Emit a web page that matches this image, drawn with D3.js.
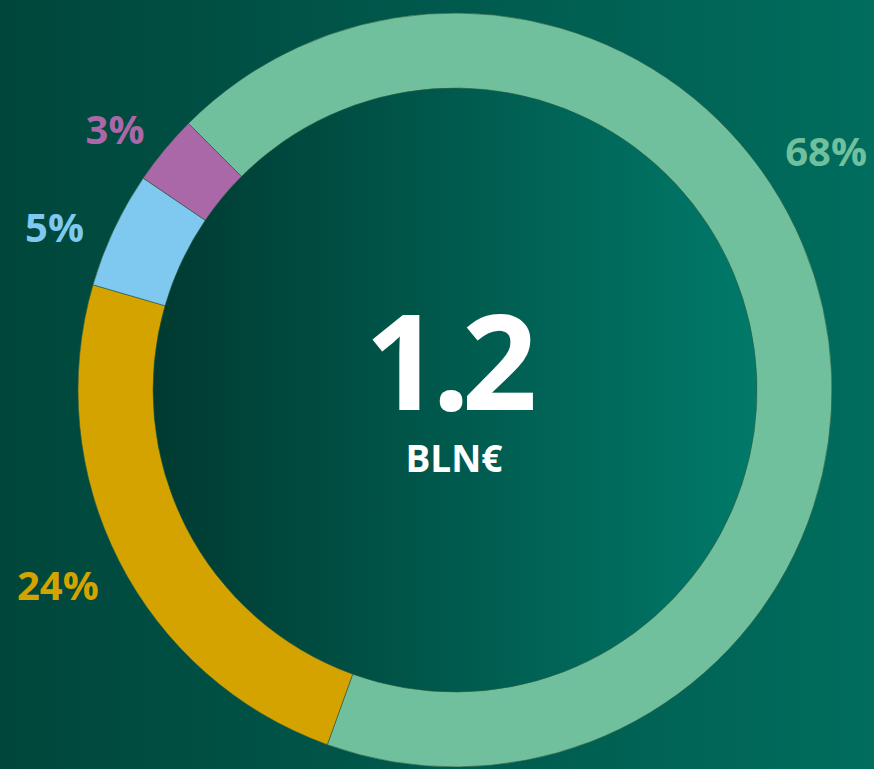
<!DOCTYPE html>
<html>
<head>
<meta charset="utf-8">
<script src="https://cdn.jsdelivr.net/npm/d3@7"></script>
<style>
  html, body { margin: 0; padding: 0; background: #005a4d; }
  svg { display: block; }
</style>
</head>
<body>
<svg id="donut" width="874" height="769"></svg>
<script>
// data
const categories = ["A", "B", "C", "D"];
const shares = [68, 24, 5, 3];
const labels = ["68%", "24%", "5%", "3%"];
const colors = ["#71c09d", "#d4a300", "#7fc8ef", "#ab68a8"];
const totalValue = "1.2";
const totalUnit = "BLN€";

const svg = d3.select("#donut");
const width = +svg.attr("width");
const height = +svg.attr("height");
const cx = 455, cy = 390;
const outerR = 377, innerR = 302;
// label placement (angle in degrees clockwise from top, radius) — hand placed like the original
const labelPlace = [[57.3, 441], [243.7, 443], [292, 432], [307.4, 428]];

const defs = svg.append("defs");
const bg = defs.append("linearGradient").attr("id", "bg")
    .attr("x1", "0%").attr("x2", "100%").attr("y1", "0%").attr("y2", "0%");
bg.append("stop").attr("offset", "0%").attr("stop-color", "#00463b");
bg.append("stop").attr("offset", "100%").attr("stop-color", "#006d5e");

const inner = defs.append("linearGradient").attr("id", "inner")
    .attr("x1", "0%").attr("x2", "100%").attr("y1", "0%").attr("y2", "0%");
inner.append("stop").attr("offset", "0%").attr("stop-color", "#003a31");
inner.append("stop").attr("offset", "100%").attr("stop-color", "#007a6a");

svg.append("rect")
    .attr("width", width)
    .attr("height", height)
    .attr("fill", "url(#bg)");

const g = svg.append("g")
    .attr("transform", "translate(" + cx + "," + cy + ")");

g.append("circle")
    .attr("r", innerR)
    .attr("fill", "url(#inner)");

const pie = d3.pie()
    .sort(null)
    .startAngle(-Math.PI / 4)
    .endAngle(2 * Math.PI - Math.PI / 4);

const arcs = pie(shares);

const arc = d3.arc()
    .innerRadius(innerR)
    .outerRadius(outerR);

g.selectAll("path.slice").data(arcs)
    .join("path")
    .attr("class", "slice")
    .attr("d", arc)
    .attr("fill", (d, i) => colors[i])
    .attr("stroke", "#2c5a40")
    .attr("stroke-width", 0.6);

const rad = a => a * Math.PI / 180;

g.selectAll("text.pct").data(arcs)
    .join("text")
    .attr("class", "pct")
    .attr("x", (d, i) => Math.sin(rad(labelPlace[i][0])) * labelPlace[i][1])
    .attr("y", (d, i) => -Math.cos(rad(labelPlace[i][0])) * labelPlace[i][1])
    .attr("dy", "0.35em")
    .attr("text-anchor", "middle")
    .style("font-family", "'Open Sans', sans-serif")
    .style("font-weight", 700)
    .style("font-size", "40px")
    .attr("fill", (d, i) => colors[i])
    .text((d, i) => labels[i]);

g.append("text")
    .attr("x", -8)
    .attr("y", 20)
    .attr("text-anchor", "middle")
    .style("font-family", "'Open Sans', sans-serif")
    .style("font-weight", 700)
    .style("font-size", "132px")
    .style("letter-spacing", "-8px")
    .attr("fill", "#ffffff")
    .text(totalValue);

g.append("text")
    .attr("x", -1)
    .attr("y", 82)
    .attr("text-anchor", "middle")
    .style("font-family", "'Open Sans', sans-serif")
    .style("font-weight", 700)
    .style("font-size", "37px")
    .attr("fill", "#ffffff")
    .text(totalUnit);
</script>
</body>
</html>
